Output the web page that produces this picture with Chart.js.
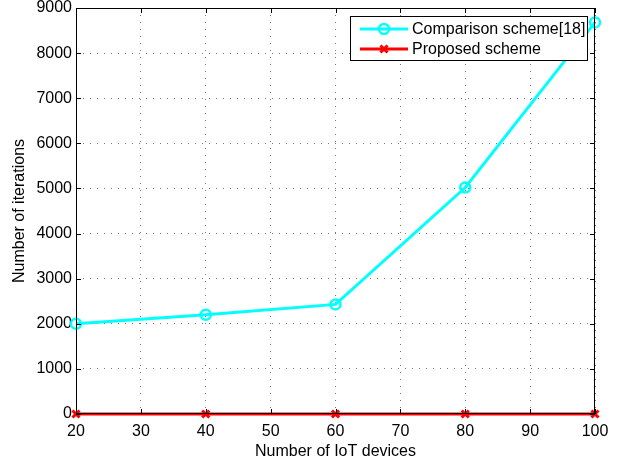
<!DOCTYPE html>
<html>
<head>
<meta charset="utf-8">
<script src="https://cdn.jsdelivr.net/npm/chart.js@4/dist/chart.umd.min.js"></script>
<style>
  html, body { margin: 0; padding: 0; background: #fff; }
  #wrap { width: 626px; height: 461px; }
</style>
</head>
<body>
<div id="wrap"><canvas id="chart" width="626" height="461"></canvas></div>
<script>
// ======= DATA =======
const devices = [20, 40, 60, 80, 100];
const comparisonIters = [2000, 2200, 2430, 5020, 8680];
const proposedIters = [0, 0, 0, 0, 0];
const seriesNames = ['Comparison scheme[18]', 'Proposed scheme'];

const FONT = "'Liberation Sans', Arial, Helvetica, sans-serif";

// Box + inward ticks, MATLAB style
const framePlugin = {
  id: 'frame',
  afterDatasetsDraw(chart) {
    const { ctx, chartArea: a, scales } = chart;
    ctx.save();
    ctx.strokeStyle = '#000';
    ctx.lineWidth = 1;
    ctx.strokeRect(a.left + 0.5, a.top + 0.5, a.right - a.left - 1, a.bottom - a.top - 1);
    const len = 5;
    ctx.beginPath();
    scales.x.ticks.forEach(t => {
      const px = Math.round(scales.x.getPixelForValue(t.value)) + 0.5;
      ctx.moveTo(px, a.bottom); ctx.lineTo(px, a.bottom - len);
      ctx.moveTo(px, a.top); ctx.lineTo(px, a.top + len);
    });
    scales.y.ticks.forEach(t => {
      const py = Math.round(scales.y.getPixelForValue(t.value)) + 0.5;
      ctx.moveTo(a.left, py); ctx.lineTo(a.left + len, py);
      ctx.moveTo(a.right, py); ctx.lineTo(a.right - len, py);
    });
    ctx.stroke();
    ctx.restore();
  }
};

// Legend box in the top right corner
const boxLegend = {
  id: 'boxLegend',
  afterDraw(chart) {
    const { ctx, chartArea: a } = chart;
    ctx.save();
    ctx.font = '16px ' + FONT;
    const textW = Math.max(...chart.data.datasets.map(d => ctx.measureText(d.label).width));
    const w = Math.round(textW + 64), h = 44;
    const x = Math.round(a.right - 8 - w), y = Math.round(a.top + 8);
    ctx.fillStyle = '#fff';
    ctx.fillRect(x, y, w, h);
    ctx.strokeStyle = '#000';
    ctx.lineWidth = 1;
    ctx.strokeRect(x + 0.5, y + 0.5, w, h);
    chart.data.datasets.forEach((d, i) => {
      const cy = y + 13 + i * 20;
      ctx.strokeStyle = d.borderColor;
      ctx.lineWidth = d.borderWidth;
      ctx.beginPath();
      ctx.moveTo(x + 10, cy); ctx.lineTo(x + 58, cy);
      ctx.stroke();
      ctx.lineWidth = d.pointBorderWidth;
      ctx.fillStyle = d.pointBackgroundColor;
      Chart.helpers.drawPoint(ctx, {
        pointStyle: d.pointStyle, rotation: 0,
        radius: d.pointRadius, borderWidth: d.pointBorderWidth
      }, x + 34, cy);
      ctx.fillStyle = '#000';
      ctx.textBaseline = 'middle';
      ctx.fillText(d.label, x + 62, cy + 1);
    });
    ctx.restore();
  }
};

new Chart(document.getElementById('chart'), {
  type: 'line',
  data: {
    datasets: [
      {
        label: seriesNames[0],
        data: devices.map((d, i) => ({ x: d, y: comparisonIters[i] })),
        borderColor: '#00ffff',
        borderWidth: 3,
        pointStyle: 'circle',
        pointRadius: 5,
        pointBorderWidth: 2.5,
        pointBorderColor: '#00ffff',
        pointBackgroundColor: 'rgba(0,0,0,0)',
        tension: 0,
        clip: false
      },
      {
        label: seriesNames[1],
        data: devices.map((d, i) => ({ x: d, y: proposedIters[i] })),
        borderColor: '#ff0000',
        borderWidth: 3,
        pointStyle: 'crossRot',
        pointRadius: 5,
        pointBorderWidth: 3,
        pointBorderColor: '#ff0000',
        pointBackgroundColor: '#ff0000',
        tension: 0,
        clip: false
      }
    ]
  },
  options: {
    responsive: false,
    animation: false,
    layout: { padding: { top: 6, right: 31, left: 10, bottom: 0 } },
    plugins: {
      legend: { display: false },
      tooltip: { enabled: false }
    },
    scales: {
      x: {
        type: 'linear',
        min: 20, max: 100,
        ticks: { stepSize: 10, color: '#000', font: { family: FONT, size: 16 }, padding: 8 },
        grid: { color: '#777', lineWidth: 1, drawTicks: false },
        border: { display: false, dash: [1, 6] },
        title: { display: true, text: 'Number of IoT devices', color: '#000', font: { family: FONT, size: 16 }, padding: { top: 1, bottom: 0 } },
        afterFit(scale) {
          scale.height = 47;
          scale.paddingLeft = 0; scale.paddingRight = 0;
        }
      },
      y: {
        min: 0, max: 9000,
        ticks: {
          stepSize: 1000, color: '#000', font: { family: FONT, size: 16 }, padding: 4,
          callback: v => String(v)
        },
        grid: { color: '#777', lineWidth: 1, drawTicks: false },
        border: { display: false, dash: [1, 6] },
        title: { display: true, text: 'Number of iterations', color: '#000', font: { family: FONT, size: 16 }, padding: { top: 0, bottom: 4 } },
        afterFit(scale) {
          scale.width = 66;
          scale.paddingTop = 0; scale.paddingBottom = 0;
        }
      }
    }
  },
  plugins: [framePlugin, boxLegend]
});
</script>
</body>
</html>
